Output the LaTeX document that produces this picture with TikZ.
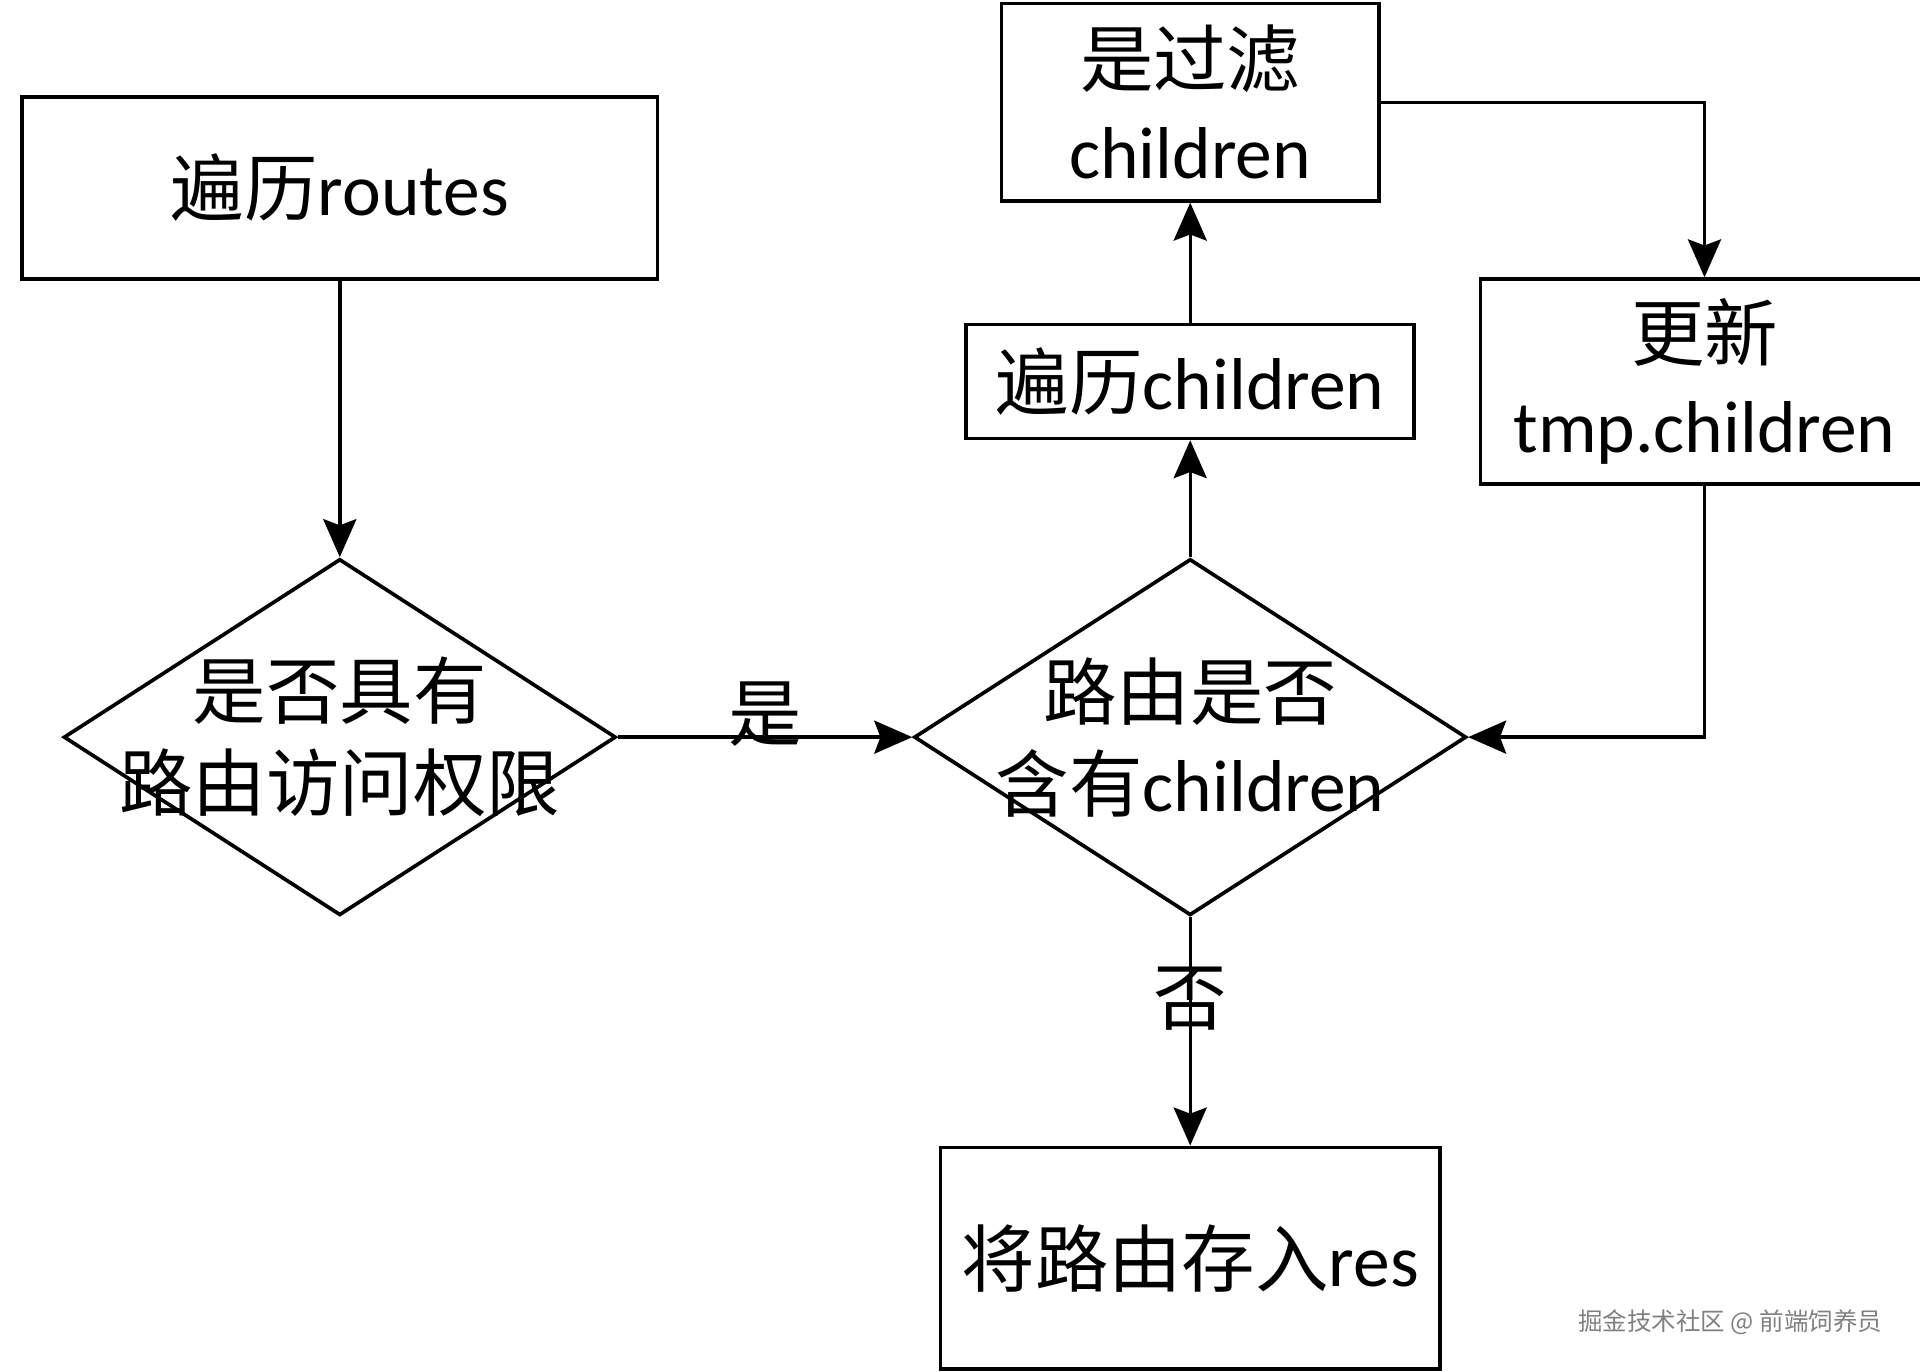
\documentclass[tikz,border=0pt]{standalone}
\usepackage{fontspec}
\setmainfont{Carlito}
\newfontfamily\cjk{Noto Sans CJK SC}
\usetikzlibrary{arrows.meta, shapes.geometric, calc}

\tikzset{
  box/.style={draw, line width=3pt, rectangle, inner sep=0pt, align=center, font=\fontsize{60}{75}\selectfont},
  decision/.style={draw, line width=3pt, diamond, inner sep=0pt, minimum width=451pt, minimum height=291pt},
  flow/.style={line width=2.8pt, -{Stealth[length=31pt, width=27pt, inset=5pt]}},
  lbl/.style={font=\fontsize{60}{75}\selectfont, align=center}
}

\begin{document}
\begin{tikzpicture}[x=1pt, y=1pt]
  \useasboundingbox (0,0) rectangle (1568,1120);

  \node[box, minimum width=519pt, minimum height=149pt] (routes) at (277.5, 966.5) {{\cjk 遍历}routes};
  \node[decision, label={[lbl]center:{{\cjk 是否具有}\\{\cjk 路由访问权限}}}] (access) at (277.5, 518) {};
  \node[decision, label={[lbl]center:{{\cjk 路由是否}\\{\cjk 含有}children}}] (haschild) at (972, 518) {};
  \node[box, minimum width=366pt, minimum height=93pt] (loopchild) at (972, 808.5) {{\cjk 遍历}children};
  \node[box, minimum width=308pt, minimum height=161pt] (filter) at (972, 1036.5) {{\cjk 是过滤}\\children};
  \node[box, minimum width=366pt, minimum height=167pt] (update) at (1392, 808.5) {{\cjk 更新}\\tmp.children};
  \node[box, minimum width=408pt, minimum height=181pt] (save) at (972, 92.5) {{\cjk 将路由存入}res};

  \draw[flow] (routes) -- (access);
  \draw[flow] (access) -- node[lbl, yshift=19pt] {\cjk 是} (haschild);
  \draw[flow] (haschild) -- (loopchild);
  \draw[flow] (loopchild) -- (filter);
  \draw[flow] (filter.east) -| (update.north);
  \draw[flow] (update.south) |- (haschild.east);
  \draw[flow] (haschild) -- node[lbl, yshift=27pt] {\cjk 否} (save);

  % watermark
  \node[text=gray, font=\cjk\fontsize{20}{20}\selectfont] (mark) at (1413, 40) {掘金技术社区 @ 前端饲养员};
\end{tikzpicture}
\end{document}
